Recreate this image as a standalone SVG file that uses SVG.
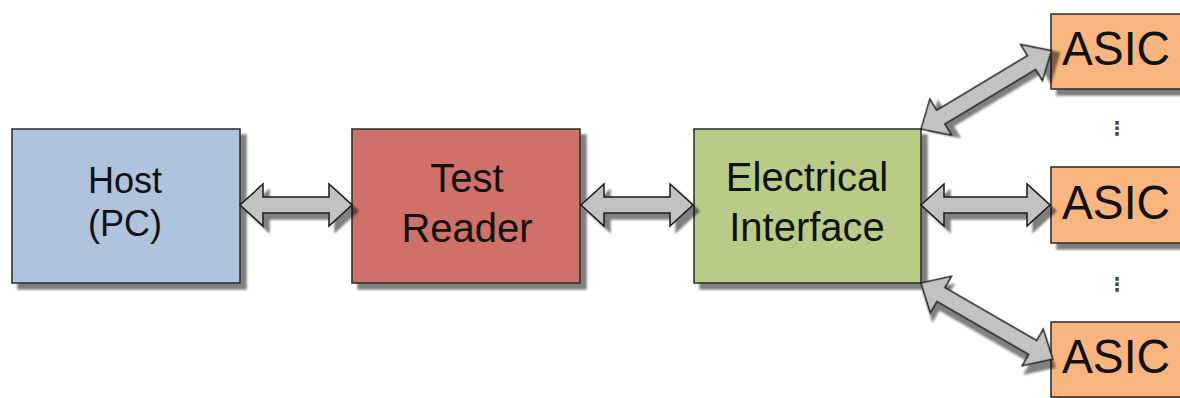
<svg xmlns="http://www.w3.org/2000/svg" width="1180" height="398" viewBox="0 0 1180 398">
<style>
.box{stroke:#2a2a2a;stroke-width:1.5;filter:url(#sh)}
.host{fill:#afc3dc}
.reader{fill:#cf6f69}
.elec{fill:#b8cc87}
.asic{fill:#f8b57d}
.lbl{font-family:"Liberation Sans",Arial,sans-serif;fill:#111;text-anchor:middle}
.asict{font-family:"Liberation Sans",Arial,sans-serif;fill:#111;font-size:48px}
.arrow{fill:#c2c2c2;stroke:#1a1a1a;stroke-width:1.5;stroke-linejoin:miter;filter:url(#sh)}
.dots{font-family:"DejaVu Sans",sans-serif;font-size:19px;font-weight:bold;fill:#444;text-anchor:middle}
</style>
<defs>
<filter id="sh" x="-10%" y="-20%" width="130%" height="150%">
<feGaussianBlur in="SourceAlpha" stdDeviation="1.2"/>
<feOffset dx="6" dy="6" result="o"/>
<feComponentTransfer><feFuncA type="linear" slope="0.5"/></feComponentTransfer>
<feMerge><feMergeNode/><feMergeNode in="SourceGraphic"/></feMerge>
</filter>
</defs>
<rect width="1180" height="398" fill="#fff"/>
<g id="host">
<rect class="box host" x="12" y="129" width="228" height="154"/>
<text class="lbl" x="125" y="193" font-size="36">Host</text>
<text class="lbl" x="125" y="236" font-size="36">(PC)</text>
</g>
<g id="reader">
<rect class="box reader" x="352" y="129" width="228" height="154"/>
<text class="lbl" x="467" y="192" font-size="40">Test</text>
<text class="lbl" x="467" y="242" font-size="40">Reader</text>
</g>
<g id="elec">
<rect class="box elec" x="694" y="129" width="227" height="154"/>
<text class="lbl" x="807" y="191" font-size="40">Electrical</text>
<text class="lbl" x="807" y="241" font-size="40">Interface</text>
</g>
<g id="asic1">
<rect class="box asic" x="1051" y="14" width="140" height="75"/>
<text class="asict" x="1062" y="65" textLength="108" lengthAdjust="spacingAndGlyphs">ASIC</text>
</g>
<g id="asic2">
<rect class="box asic" x="1051" y="167" width="140" height="76"/>
<text class="asict" x="1062" y="219" textLength="108" lengthAdjust="spacingAndGlyphs">ASIC</text>
</g>
<g id="asic3">
<rect class="box asic" x="1051" y="322" width="140" height="75"/>
<text class="asict" x="1062" y="373" textLength="108" lengthAdjust="spacingAndGlyphs">ASIC</text>
</g>
<g id="ellipses">
<text class="dots" x="1117" y="135">⋮</text>
<text class="dots" x="1117" y="291">⋮</text>
</g>
<g id="connectors">
<polygon class="arrow" transform="translate(240,205)" points="0,0 23,-21 23,-8 89,-8 89,-21 112,0 89,21 89,8 23,8 23,21"/>
<polygon class="arrow" transform="translate(581,205)" points="0,0 23,-21 23,-8 89,-8 89,-21 112,0 89,21 89,8 23,8 23,21"/>
<polygon class="arrow" transform="translate(921,205)" points="0,0 23,-21 23,-8 106,-8 106,-21 129,0 106,21 106,8 23,8 23,21"/>
<polygon class="arrow" transform="translate(921,129) rotate(-31)" points="0,0 23,-21 23,-8 129,-8 129,-21 152,0 129,21 129,8 23,8 23,21"/>
<polygon class="arrow" transform="translate(921,283) rotate(30)" points="0,0 23,-21 23,-8 129,-8 129,-21 152,0 129,21 129,8 23,8 23,21"/>
</g>
</svg>
